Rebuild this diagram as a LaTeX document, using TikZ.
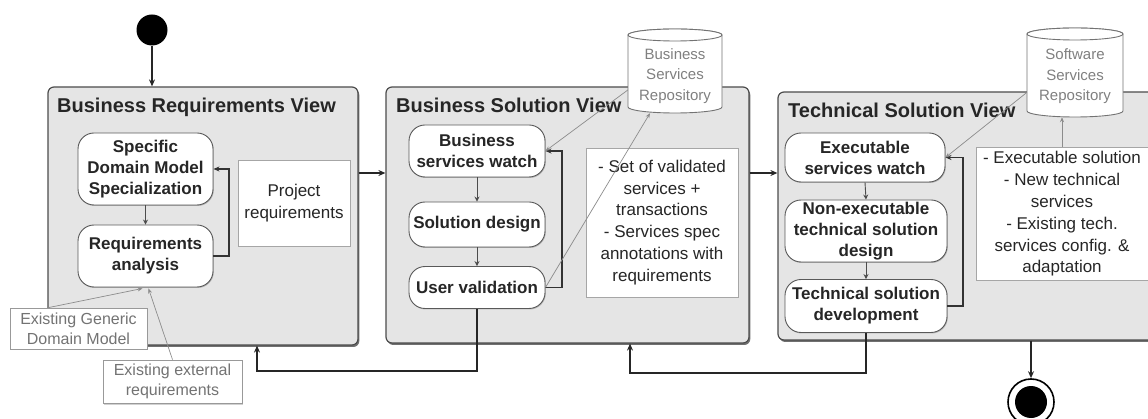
\documentclass[tikz,border=0pt]{standalone}
\usepackage{fontspec}
\setmainfont{Liberation Sans}
\usetikzlibrary{arrows.meta,shadows,calc}
\begin{document}
\begin{tikzpicture}[x=1pt,y=-1pt,
  view/.style={rectangle, draw=black!70, line width=1.2pt, fill=black!10, rounded corners=6pt, inner sep=0pt,
    drop shadow={shadow xshift=1.3pt, shadow yshift=-2pt, fill=black!70, opacity=0.8}},
  viewtitle/.style={anchor=base west, font=\fontsize{20}{24}\selectfont\bfseries, text=black!85, inner sep=0pt},
  act/.style={rectangle, draw=black!65, line width=0.9pt, fill=white, rounded corners=16pt, inner sep=0pt,
    align=center, font=\fontsize{17}{21}\selectfont\bfseries, text=black!85,
    drop shadow={shadow xshift=0.8pt, shadow yshift=-1pt, fill=black!40, opacity=0.6}},
  note/.style={rectangle, draw=black!35, line width=0.8pt, fill=white, inner sep=0pt, align=center,
    font=\fontsize{17}{21.8}\selectfont, text=black!85},
  extnote/.style={rectangle, draw=black!40, line width=0.8pt, fill=white, inner sep=0pt, align=center,
    font=\fontsize{16}{20}\selectfont, text=black!55,
    drop shadow={shadow xshift=1pt, shadow yshift=-1.5pt, fill=black!30, opacity=0.6}},
  repobody/.style={draw=black!55, line width=0.9pt, fill=white},
  repotext/.style={rectangle, inner sep=0pt, align=center, font=\fontsize{15}{20.5}\selectfont, text=black!50},
  flow/.style={draw=black!85, line width=1.3pt, -{Stealth[length=7pt,width=6pt]}},
  inarrow/.style={draw=black!70, line width=0.9pt, -{Stealth[length=5pt,width=5pt]}},
  looparrow/.style={draw=black!80, line width=1.1pt, -{Stealth[length=6pt,width=5pt]}},
  greyarrow/.style={draw=black!45, line width=0.7pt, -{Stealth[length=5pt,width=4pt]}}
]
\useasboundingbox (0,0) rectangle (1148,419);
\clip (0,0) rectangle (1148,419);

% view containers
\node[view, minimum width=310pt, minimum height=258pt] (brv) at (203,216) {};
\node[view, minimum width=363pt, minimum height=256pt] (bsv) at (567.5,215) {};
\node[view, minimum width=390pt, minimum height=248pt] (tsv) at (973,216) {};

\node[viewtitle] (brvt) at (57,113) {Business Requirements View};
\node[viewtitle] (bsvt) at (396,113) {Business Solution View};
\node[viewtitle] (tsvt) at (788,118) {Technical Solution View};

% repositories (cylinders)
\fill[repobody] (628,35) -- (628,107) arc[start angle=180,end angle=0,x radius=47,y radius=6]
  -- (722,35) arc[start angle=0,end angle=-180,x radius=47,y radius=6] -- cycle;
\draw[repobody] (675,35) ellipse[x radius=47,y radius=6];
\node[repotext, minimum width=94pt, minimum height=84pt] (bsr) at (675,71) {};
\node[repotext] (bsrt) at (675,76) {Business\\Services\\Repository};

\fill[repobody] (1027,34) -- (1027,111) arc[start angle=180,end angle=0,x radius=48,y radius=6]
  -- (1123,34) arc[start angle=0,end angle=-180,x radius=48,y radius=6] -- cycle;
\draw[repobody] (1075,34) ellipse[x radius=48,y radius=6];
\node[repotext, minimum width=96pt, minimum height=89pt] (ssr) at (1075,72.5) {};
\node[repotext] (ssrt) at (1075,76.5) {Software\\Services\\Repository};

% Business Requirements View content
\node[act, minimum width=135pt, minimum height=72pt] (sdms) at (145.5,169) {Specific\\Domain Model\\Specialization};
\node[act, minimum width=135pt, minimum height=62pt] (ra) at (145.5,256) {Requirements\\analysis};
\node[note, minimum width=112pt, minimum height=86pt] (pr) at (294,203) {Project\\requirements};

% Business Solution View content
\node[act, minimum width=136pt, minimum height=52pt] (bsw) at (477,151) {Business\\services watch};
\node[act, minimum width=136pt, minimum height=45pt] (sd) at (477,224.5) {Solution design};
\node[act, minimum width=136pt, minimum height=42pt] (uv) at (477,287.5) {User validation};
\node[note, minimum width=152pt, minimum height=149pt] (bsn) at (662,222.5)
  {- Set of validated\\services +\\transactions\\- Services spec\\annotations with\\requirements};

% Technical Solution View content
\node[act, minimum width=160pt, minimum height=49pt] (esw) at (865,157.5) {Executable\\services watch};
\node[act, minimum width=162pt, minimum height=62pt] (netsd) at (866,231) {Non-executable\\technical solution\\design};
\node[act, minimum width=162pt, minimum height=53pt] (tsd) at (866,306) {Technical solution\\development};
\node[note, minimum width=172pt, minimum height=133pt] (tsn) at (1062,214)
  {- Executable solution\\- New technical\\services\\- Existing tech.\\services config. \&\\adaptation};

% external inputs
\node[extnote, minimum width=137pt, minimum height=41pt] (egdm) at (78.5,328.5) {Existing Generic\\Domain Model};
\node[extnote, minimum width=139pt, minimum height=43pt] (eer) at (172.5,381.5) {Existing external\\requirements};

% start / end
\node[circle, fill=black, minimum size=31pt, inner sep=0pt] (start) at (152,30) {};
\node[circle, draw=black, line width=1.6pt, fill=white, minimum size=46pt, inner sep=0pt] (end) at (1031,402) {};
\node[circle, fill=black, minimum size=32pt, inner sep=0pt] (endin) at (1031,402) {};

% main flow
\coordinate (r1) at (0,173);
\coordinate (ret1) at (257,371);
\coordinate (ret2) at (630,373);
\draw[flow] (start.south) -- (start.south |- brv.north);
\draw[flow] (brv.east |- r1) -- (bsv.west |- r1);
\draw[flow] (bsv.east |- r1) -- (tsv.west |- r1);
\draw[flow] (uv.south) -- (uv.south |- ret1) -- (ret1) -- (ret1 |- brv.south);
\draw[flow] (tsd.south) -- (tsd.south |- ret2) -- (ret2) -- (ret2 |- bsv.south);
\draw[flow] (end.north |- tsv.south) -- (end.north);

% inner steps
\draw[inarrow] (sdms.south) -- (ra.north);
\draw[inarrow] (bsw.south) -- (sd.north);
\draw[inarrow] (sd.south) -- (uv.north);
\draw[inarrow] (esw.south) -- (netsd.north);
\draw[inarrow] (netsd.south) -- (tsd.north);

% loops
\coordinate (l1) at (229,0);
\coordinate (l2) at (562,0);
\coordinate (l3) at (963,0);
\draw[looparrow] (ra.east) -- (ra.east -| l1) |- (sdms.east);
\draw[looparrow] (uv.east) -- (uv.east -| l2) |- (bsw.east);
\draw[looparrow] (tsd.east) -- (tsd.east -| l3) |- (esw.east);

% grey information links
\draw[greyarrow] ($(bsr.west)+(0,19)$) -- (bsw.east);
\draw[greyarrow] (uv.east) -- ($(bsr.south)+(-25,0)$);
\draw[greyarrow] ($(ssr.west)+(0,20)$) -- (esw.east);
\draw[greyarrow] (tsn.north) -- (tsn.north |- ssr.south);
\draw[greyarrow] ($(egdm.north)+(-30,0)$) -- ($(ra.south)+(-3,1)$);
\draw[greyarrow] (eer.north) -- ($(ra.south)+(3,1)$);
\end{tikzpicture}
\end{document}
